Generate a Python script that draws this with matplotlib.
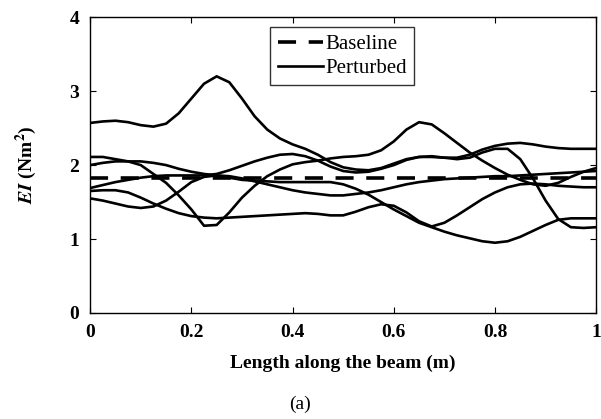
import matplotlib.pyplot as plt

# positions along the beam (m)
x = [0.0, 0.025, 0.05, 0.075, 0.1, 0.125, 0.15, 0.175, 0.2, 0.225,
     0.25, 0.275, 0.3, 0.325, 0.35, 0.375, 0.4, 0.425, 0.45, 0.475,
     0.5, 0.525, 0.55, 0.575, 0.6, 0.625, 0.65, 0.675, 0.7, 0.725,
     0.75, 0.775, 0.8, 0.825, 0.85, 0.875, 0.9, 0.925, 0.95, 0.975, 1.0]

baseline = [1.83] * len(x)

# perturbed EI profiles
p1 = [2.57, 2.59, 2.60, 2.58, 2.54, 2.52, 2.56, 2.70, 2.90, 3.10,
      3.20, 3.12, 2.90, 2.66, 2.48, 2.36, 2.28, 2.22, 2.14, 2.04,
      1.97, 1.94, 1.93, 1.96, 2.02, 2.08, 2.11, 2.11, 2.10, 2.10,
      2.14, 2.21, 2.26, 2.29, 2.30, 2.28, 2.25, 2.23, 2.22, 2.22, 2.22]
p2 = [2.11, 2.11, 2.08, 2.05, 2.00, 1.88, 1.76, 1.59, 1.40, 1.18,
      1.19, 1.36, 1.56, 1.72, 1.85, 1.94, 2.01, 2.04, 2.06, 2.09,
      2.11, 2.12, 2.14, 2.20, 2.32, 2.48, 2.58, 2.55, 2.43, 2.30,
      2.17, 2.06, 1.96, 1.87, 1.80, 1.74, 1.72, 1.76, 1.84, 1.91, 1.96]
p3 = [2.00, 2.03, 2.05, 2.05, 2.05, 2.03, 2.00, 1.95, 1.91, 1.88,
      1.86, 1.83, 1.80, 1.79, 1.78, 1.77, 1.77, 1.77, 1.77, 1.77,
      1.74, 1.68, 1.60, 1.50, 1.40, 1.31, 1.22, 1.16, 1.10, 1.05,
      1.01, 0.97, 0.95, 0.97, 1.03, 1.11, 1.19, 1.26, 1.28, 1.28, 1.28]
p4 = [1.69, 1.73, 1.77, 1.80, 1.83, 1.85, 1.86, 1.86, 1.86, 1.86,
      1.88, 1.93, 1.99, 2.05, 2.10, 2.14, 2.15, 2.12, 2.06, 1.98,
      1.92, 1.90, 1.91, 1.95, 2.00, 2.07, 2.11, 2.12, 2.10, 2.08,
      2.10, 2.17, 2.22, 2.22, 2.08, 1.82, 1.52, 1.27, 1.16, 1.15, 1.16]
p5 = [1.65, 1.66, 1.66, 1.63, 1.56, 1.48, 1.41, 1.35, 1.31, 1.29,
      1.28, 1.29, 1.30, 1.31, 1.32, 1.33, 1.34, 1.35, 1.34, 1.32,
      1.32, 1.37, 1.43, 1.47, 1.45, 1.36, 1.24, 1.17, 1.22, 1.32,
      1.43, 1.54, 1.63, 1.70, 1.74, 1.75, 1.74, 1.72, 1.71, 1.70, 1.70]
p6 = [1.55, 1.52, 1.48, 1.44, 1.42, 1.44, 1.52, 1.64, 1.77, 1.84,
      1.86, 1.85, 1.82, 1.78, 1.74, 1.70, 1.66, 1.63, 1.61, 1.59,
      1.59, 1.61, 1.63, 1.66, 1.70, 1.74, 1.77, 1.79, 1.81, 1.82,
      1.83, 1.84, 1.85, 1.85, 1.86, 1.87, 1.88, 1.89, 1.90, 1.91, 1.92]
perturbed = [p1, p2, p3, p4, p5, p6]

plt.rcParams['font.family'] = 'Liberation Serif'
plt.rcParams['font.weight'] = 'bold'
plt.rcParams['axes.labelweight'] = 'bold'
plt.rcParams['mathtext.fontset'] = 'stix'

fig = plt.figure(figsize=(6.01, 4.19), dpi=100)
ax = fig.add_axes([0.15, 0.253, 0.842, 0.706])

ax.plot(x, baseline, color='black', lw=2.6, ls=(0, (5, 3.5)), label='Baseline')
for i, p in enumerate(perturbed):
    ax.plot(x, p, color='black', lw=1.9, label='Perturbed' if i == 0 else None)

ax.set_xlim(0, 1)
ax.set_ylim(0, 4)
ax.set_xticks([0, 0.2, 0.4, 0.6, 0.8, 1])
ax.set_xticklabels(['0', '0.2', '0.4', '0.6', '0.8', '1'])
ax.set_yticks([0, 1, 2, 3, 4])
ax.tick_params(direction='in', top=True, right=True, length=4, labelsize=14, pad=8)
for s in ax.spines.values():
    s.set_linewidth(1.0)

ax.set_xlabel('Length along the beam (m)', fontsize=14, labelpad=10)
ax.set_ylabel(r'$\mathbf{\mathit{EI}}$ (Nm$^2$)', fontsize=14, labelpad=22)
fig.text(0.5, 0.025, '(a)', ha='center', fontsize=14, fontweight='normal')

leg = ax.legend(loc='upper left', bbox_to_anchor=(0.356, 0.966), borderaxespad=0,
                prop={'size': 15, 'weight': 'normal'}, frameon=True, fancybox=False,
                handlelength=2.2, handletextpad=0.1, borderpad=0.35, labelspacing=0.2)
leg.get_frame().set_edgecolor('black')
leg.get_frame().set_linewidth(1.0)

fig.savefig('out.png', dpi=100)
